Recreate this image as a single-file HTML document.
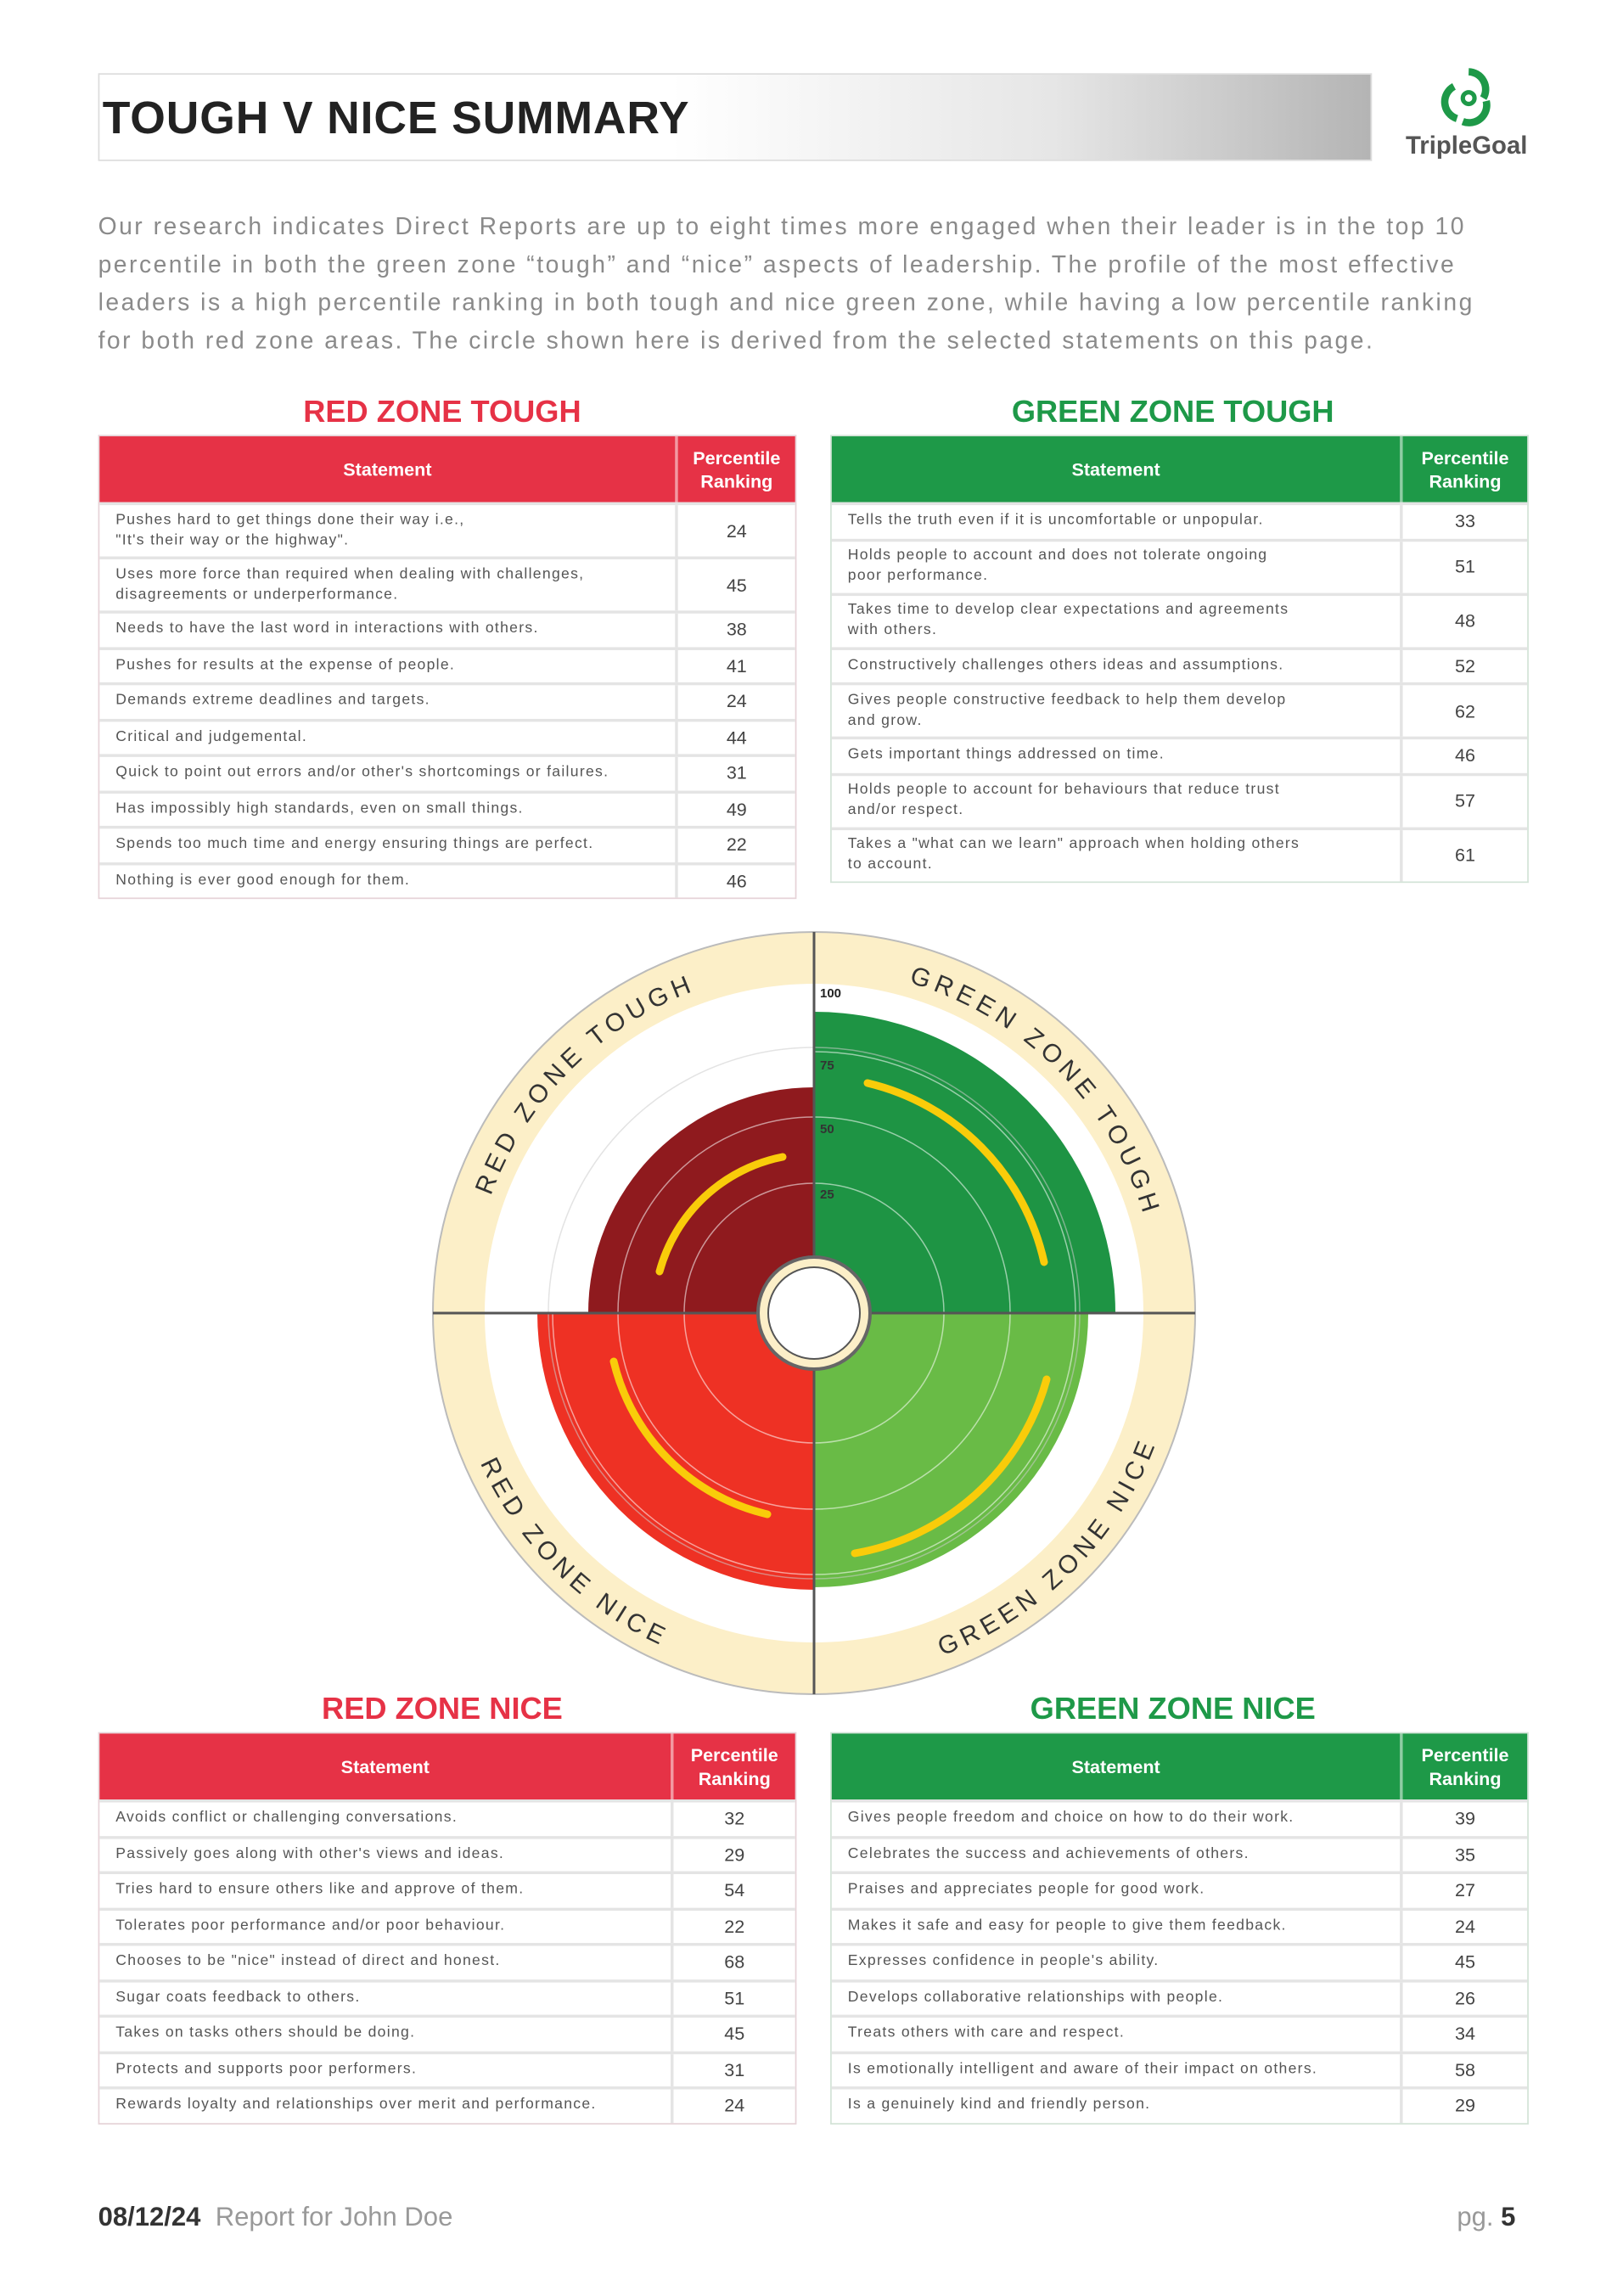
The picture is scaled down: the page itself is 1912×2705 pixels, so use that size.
<!DOCTYPE html>
<html><head><meta charset="utf-8"><style>
*{margin:0;padding:0;box-sizing:border-box}
body{width:1912px;height:2705px;background:#fff;position:relative;overflow:hidden;font-family:"Liberation Sans",sans-serif}
#w{position:absolute;left:0;top:0;width:1108px;height:1568px;transform:scale(1.725);transform-origin:0 0}
.title{position:absolute;left:67px;top:50px;width:870px;height:60px;border:1px solid #ddd;background:linear-gradient(90deg,#fff 0%,#fff 45%,#e6e6e6 75%,#b4b4b4 100%)}
.title span{position:absolute;left:2px;top:12px;font-size:31px;font-weight:bold;color:#222;letter-spacing:0.5px}
.para{position:absolute;left:67px;top:142px;width:990px;font-size:16.4px;line-height:26px;color:#8a8a8a;white-space:nowrap;letter-spacing:1.45px}
.h{position:absolute;font-size:21px;font-weight:bold;text-align:center;width:400px}
.t{position:absolute;border:1px solid #e6d3d8;background:#fff}
.hd{display:flex;height:45px;color:#fff;font-weight:bold;font-size:12.5px}
.hd div{display:flex;align-items:center;justify-content:center;text-align:center;line-height:16px}
.hd .n{border-left:2px solid rgba(255,255,255,.5)}
.r{display:flex;border-top:2px solid #e4e4e4}
.r .s{display:flex;align-items:center;padding-left:11px;font-size:10.2px;color:#555;line-height:14px;letter-spacing:0.75px;white-space:nowrap}
.r .n{display:flex;align-items:center;justify-content:center;border-left:2px solid #e4e4e4;font-size:12.5px;color:#444}
.foot{position:absolute;top:1504px;font-size:18px}
</style></head><body>
<div id="w">
<div class="title"><span>TOUGH V NICE SUMMARY</span></div>
<svg style="position:absolute;left:975px;top:45px" width="56" height="44" viewBox="0 0 56 44">
<path d="M28 4 A12 12 0 0 1 38 22" stroke="#1e9948" stroke-width="5" fill="none"/>
<path d="M40 24 A12 12 0 0 1 24 38" stroke="#1e9948" stroke-width="5" fill="none"/>
<path d="M20 36 A12 12 0 0 1 18 14" stroke="#1e9948" stroke-width="5" fill="none"/>
<circle cx="28" cy="22" r="4" fill="none" stroke="#1e9948" stroke-width="3"/>
</svg>
<div style="position:absolute;left:960px;top:90px;font-size:17px;font-weight:bold;color:#555">TripleGoal</div>
<div class="para">Our research indicates Direct Reports are up to eight times more engaged when their leader is in the top 10<br>percentile in both the green zone “tough” and “nice” aspects of leadership. The profile of the most effective<br>leaders is a high percentile ranking in both tough and nice green zone, while having a low percentile ranking<br>for both red zone areas. The circle shown here is derived from the selected statements on this page.</div>

<div class="h" style="left:102px;top:270px;color:#e63246">RED ZONE TOUGH</div>
<div class="h" style="left:601px;top:270px;color:#1e9948">GREEN ZONE TOUGH</div>

<div class="t" style="left:67px;top:297px;width:477px">
<div class="hd" style="background:#e63246"><div style="width:394px">Statement</div><div class="n" style="width:82px">Percentile<br>Ranking</div></div>
<div class="r" style="height:37px"><div class="s" style="width:394px">Pushes hard to get things done their way i.e.,<br>"It's their way or the highway".</div><div class="n" style="width:82px">24</div></div>
<div class="r" style="height:37px"><div class="s" style="width:394px">Uses more force than required when dealing with challenges,<br>disagreements or underperformance.</div><div class="n" style="width:82px">45</div></div>
<div class="r" style="height:24.5px"><div class="s" style="width:394px">Needs to have the last word in interactions with others.</div><div class="n" style="width:82px">38</div></div>
<div class="r" style="height:24.5px"><div class="s" style="width:394px">Pushes for results at the expense of people.</div><div class="n" style="width:82px">41</div></div>
<div class="r" style="height:24.5px"><div class="s" style="width:394px">Demands extreme deadlines and targets.</div><div class="n" style="width:82px">24</div></div>
<div class="r" style="height:24.5px"><div class="s" style="width:394px">Critical and judgemental.</div><div class="n" style="width:82px">44</div></div>
<div class="r" style="height:24.5px"><div class="s" style="width:394px">Quick to point out errors and/or other's shortcomings or failures.</div><div class="n" style="width:82px">31</div></div>
<div class="r" style="height:24.5px"><div class="s" style="width:394px">Has impossibly high standards, even on small things.</div><div class="n" style="width:82px">49</div></div>
<div class="r" style="height:24.5px"><div class="s" style="width:394px">Spends too much time and energy ensuring things are perfect.</div><div class="n" style="width:82px">22</div></div>
<div class="r" style="height:24.5px"><div class="s" style="width:394px">Nothing is ever good enough for them.</div><div class="n" style="width:82px">46</div></div>
</div>

<div class="t" style="left:567px;top:297px;width:477px;border-color:#d3e3d7">
<div class="hd" style="background:#1e9948"><div style="width:389px">Statement</div><div class="n" style="width:87px">Percentile<br>Ranking</div></div>
<div class="r" style="height:24.5px"><div class="s" style="width:389px">Tells the truth even if it is uncomfortable or unpopular.</div><div class="n" style="width:87px">33</div></div>
<div class="r" style="height:37px"><div class="s" style="width:389px">Holds people to account and does not tolerate ongoing<br>poor performance.</div><div class="n" style="width:87px">51</div></div>
<div class="r" style="height:37px"><div class="s" style="width:389px">Takes time to develop clear expectations and agreements<br>with others.</div><div class="n" style="width:87px">48</div></div>
<div class="r" style="height:24.5px"><div class="s" style="width:389px">Constructively challenges others ideas and assumptions.</div><div class="n" style="width:87px">52</div></div>
<div class="r" style="height:37px"><div class="s" style="width:389px">Gives people constructive feedback to help them develop<br>and grow.</div><div class="n" style="width:87px">62</div></div>
<div class="r" style="height:24.5px"><div class="s" style="width:389px">Gets important things addressed on time.</div><div class="n" style="width:87px">46</div></div>
<div class="r" style="height:37px"><div class="s" style="width:389px">Holds people to account for behaviours that reduce trust<br>and/or respect.</div><div class="n" style="width:87px">57</div></div>
<div class="r" style="height:37px"><div class="s" style="width:389px">Takes a "what can we learn" approach when holding others<br>to account.</div><div class="n" style="width:87px">61</div></div>
</div>

<div class="h" style="left:102px;top:1156px;color:#e63246">RED ZONE NICE</div>
<div class="h" style="left:601px;top:1156px;color:#1e9948">GREEN ZONE NICE</div>

<div class="t" style="left:67px;top:1183px;width:477px">
<div class="hd" style="background:#e63246"><div style="width:391px">Statement</div><div class="n" style="width:85px">Percentile<br>Ranking</div></div>
<div class="r" style="height:24.5px"><div class="s" style="width:391px">Avoids conflict or challenging conversations.</div><div class="n" style="width:85px">32</div></div>
<div class="r" style="height:24.5px"><div class="s" style="width:391px">Passively goes along with other's views and ideas.</div><div class="n" style="width:85px">29</div></div>
<div class="r" style="height:24.5px"><div class="s" style="width:391px">Tries hard to ensure others like and approve of them.</div><div class="n" style="width:85px">54</div></div>
<div class="r" style="height:24.5px"><div class="s" style="width:391px">Tolerates poor performance and/or poor behaviour.</div><div class="n" style="width:85px">22</div></div>
<div class="r" style="height:24.5px"><div class="s" style="width:391px">Chooses to be "nice" instead of direct and honest.</div><div class="n" style="width:85px">68</div></div>
<div class="r" style="height:24.5px"><div class="s" style="width:391px">Sugar coats feedback to others.</div><div class="n" style="width:85px">51</div></div>
<div class="r" style="height:24.5px"><div class="s" style="width:391px">Takes on tasks others should be doing.</div><div class="n" style="width:85px">45</div></div>
<div class="r" style="height:24.5px"><div class="s" style="width:391px">Protects and supports poor performers.</div><div class="n" style="width:85px">31</div></div>
<div class="r" style="height:24.5px"><div class="s" style="width:391px">Rewards loyalty and relationships over merit and performance.</div><div class="n" style="width:85px">24</div></div>
</div>

<div class="t" style="left:567px;top:1183px;width:477px;border-color:#d3e3d7">
<div class="hd" style="background:#1e9948"><div style="width:389px">Statement</div><div class="n" style="width:87px">Percentile<br>Ranking</div></div>
<div class="r" style="height:24.5px"><div class="s" style="width:389px">Gives people freedom and choice on how to do their work.</div><div class="n" style="width:87px">39</div></div>
<div class="r" style="height:24.5px"><div class="s" style="width:389px">Celebrates the success and achievements of others.</div><div class="n" style="width:87px">35</div></div>
<div class="r" style="height:24.5px"><div class="s" style="width:389px">Praises and appreciates people for good work.</div><div class="n" style="width:87px">27</div></div>
<div class="r" style="height:24.5px"><div class="s" style="width:389px">Makes it safe and easy for people to give them feedback.</div><div class="n" style="width:87px">24</div></div>
<div class="r" style="height:24.5px"><div class="s" style="width:389px">Expresses confidence in people's ability.</div><div class="n" style="width:87px">45</div></div>
<div class="r" style="height:24.5px"><div class="s" style="width:389px">Develops collaborative relationships with people.</div><div class="n" style="width:87px">26</div></div>
<div class="r" style="height:24.5px"><div class="s" style="width:389px">Treats others with care and respect.</div><div class="n" style="width:87px">34</div></div>
<div class="r" style="height:24.5px"><div class="s" style="width:389px">Is emotionally intelligent and aware of their impact on others.</div><div class="n" style="width:87px">58</div></div>
<div class="r" style="height:24.5px"><div class="s" style="width:389px">Is a genuinely kind and friendly person.</div><div class="n" style="width:87px">29</div></div>
</div>

<div class="foot" style="left:67px;color:#333"><b>08/12/24</b>&nbsp; <span style="color:#999">Report for John Doe</span></div>
<div class="foot" style="left:995px;color:#999">pg. <b style="color:#333">5</b></div>
</div>

<svg style="position:absolute;left:0;top:0" width="1912" height="2705" viewBox="0 0 1912 2705">
<defs>
<path id="p1" d="M554 1547 A405 405 0 0 1 959 1142"/>
<path id="p2" d="M959 1142 A405 405 0 0 1 1364 1547"/>
<path id="p3" d="M528 1547 A431 431 0 0 0 959 1978"/>
<path id="p4" d="M959 1978 A431 431 0 0 0 1390 1547"/>
</defs>
<circle cx="959" cy="1547" r="449" fill="#fcefc8" stroke="#bbb" stroke-width="2"/>
<circle cx="959" cy="1547" r="388" fill="#fff"/>
<path d="M959 1547 L693 1547 A266 266 0 0 1 959 1281 Z" fill="#8f1a1e"/>
<path d="M959 1547 L959 1192 A355 355 0 0 1 1314 1547 Z" fill="#1e9444"/>
<path d="M959 1547 L633 1547 A326 326 0 0 0 959 1873 Z" fill="#ee3124"/>
<path d="M959 1547 L959 1870 A323 323 0 0 0 1282 1547 Z" fill="#69bb46"/>
<g fill="none" stroke="#fff" stroke-opacity=".55" stroke-width="1.5">
<circle cx="959" cy="1547" r="153"/><circle cx="959" cy="1547" r="231"/><circle cx="959" cy="1547" r="308"/><circle cx="959" cy="1547" r="313" stroke="#ccc"/>
</g>
<g fill="none" stroke="#f9cc0a" stroke-width="9" stroke-linecap="round">
<path d="M777 1498 A188 188 0 0 1 922 1363"/>
<path d="M1022 1276 A279 279 0 0 1 1230 1487"/>
<path d="M723 1604 A243 243 0 0 0 904 1784"/>
<path d="M1233 1625 A285 285 0 0 1 1007 1830"/>
</g>
<line x1="510" y1="1547" x2="1408" y2="1547" stroke="#555" stroke-width="3"/>
<line x1="959" y1="1098" x2="959" y2="1996" stroke="#555" stroke-width="3"/>
<circle cx="959" cy="1547" r="66" fill="#fcefc8" stroke="#666" stroke-width="4"/>
<circle cx="959" cy="1547" r="54" fill="#fff" stroke="#555" stroke-width="2"/>
<g font-family="Liberation Sans,sans-serif" font-size="15" fill="#222" font-weight="bold">
<text x="966" y="1175">100</text><text x="966" y="1260" fill="#333">75</text><text x="966" y="1335" fill="#333">50</text><text x="966" y="1412" fill="#333">25</text>
</g>
<g font-family="Liberation Sans,sans-serif" font-size="30" fill="#333" letter-spacing="6" text-anchor="middle">
<text><textPath href="#p1" startOffset="50%">RED ZONE TOUGH</textPath></text>
<text><textPath href="#p2" startOffset="50%">GREEN ZONE TOUGH</textPath></text>
<text><textPath href="#p3" startOffset="50%">RED ZONE NICE</textPath></text>
<text><textPath href="#p4" startOffset="50%">GREEN ZONE NICE</textPath></text>
</g>
</svg>
</body></html>
